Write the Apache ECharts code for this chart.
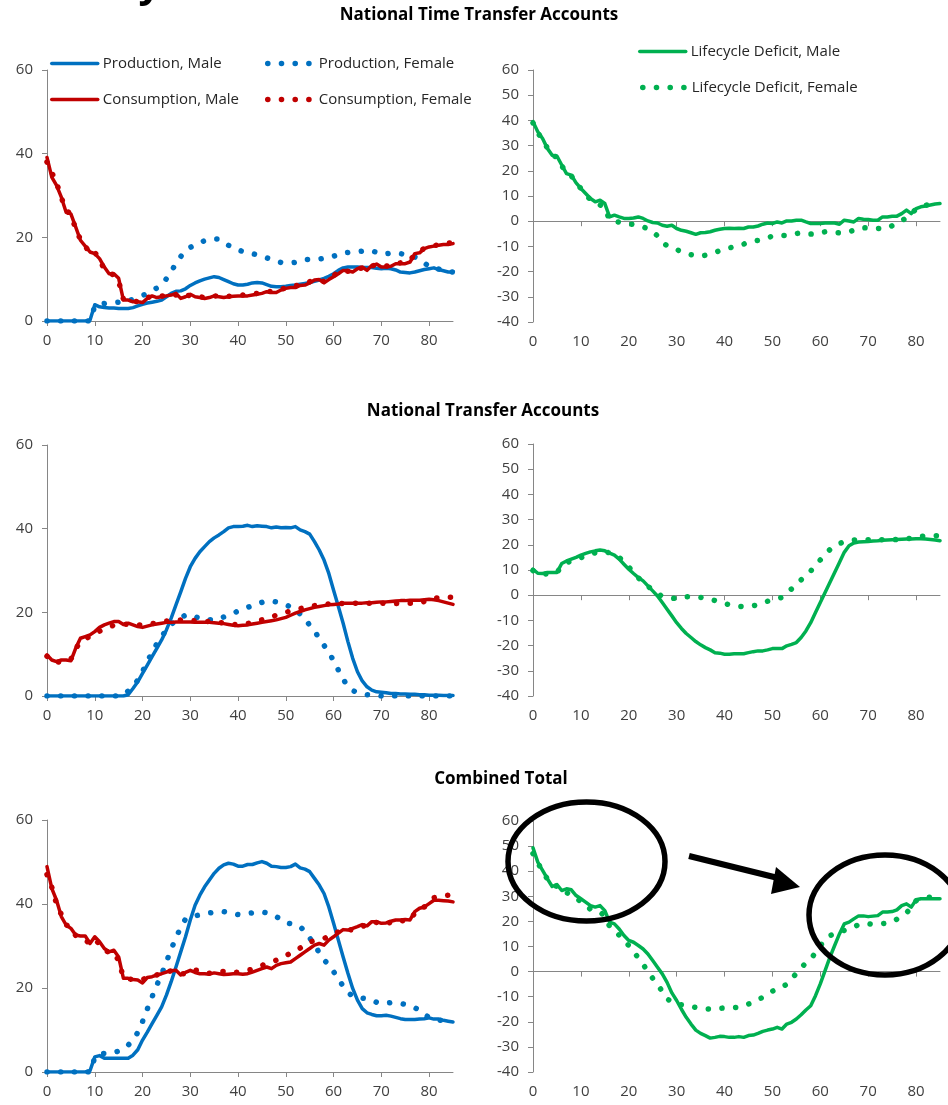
<!DOCTYPE html>
<html><head><meta charset="utf-8">
<script src="https://cdn.jsdelivr.net/npm/echarts@6/dist/echarts.min.js"></script>
<style>html,body{margin:0;padding:0;background:#fff}#c{width:948px;height:1105px}</style>
</head><body><div id="c"></div>
<script>
// ---------- DATA ----------
const ages = [0,1,2,3,4,5,6,7,8,9,10,11,12,13,14,15,16,17,18,19,20,21,22,23,24,25,26,27,28,29,30,31,32,33,34,35,36,37,38,39,40,41,42,43,44,45,46,47,48,49,50,51,52,53,54,55,56,57,58,59,60,61,62,63,64,65,66,67,68,69,70,71,72,73,74,75,76,77,78,79,80,81,82,83,84,85];
const xTicks = [0,10,20,30,40,50,60,70,80];
const titles = ['National Time Transfer Accounts','National Transfer Accounts','Combined Total'];
const seriesNames = ['Production, Male','Production, Female','Consumption, Male','Consumption, Female','Lifecycle Deficit, Male','Lifecycle Deficit, Female'];

// National Time Transfer Accounts
const prodMaleTime = [0,0,0,0,0,0,0,0,0,0.2,3.9,3.4,3.2,3.1,3.1,3.0,3.0,3.0,3.2,3.6,4.0,4.3,4.5,4.7,5.0,5.8,6.6,7.1,7.2,7.7,8.5,9.1,9.6,10.0,10.3,10.6,10.4,9.9,9.4,8.9,8.6,8.6,8.8,9.1,9.2,9.1,8.7,8.3,8.2,8.2,8.3,8.5,8.6,8.8,9.0,9.2,9.5,9.8,10.2,10.7,11.3,12.1,12.7,12.9,12.9,12.9,12.8,12.8,12.8,12.6,12.5,12.6,12.5,12.2,11.7,11.6,11.5,11.7,12.0,12.3,12.5,12.7,12.3,12.0,11.7,11.7];
const prodFemaleTime = [0,0,0,0,0,0,0,0,0,0,3.5,4.1,4.2,4.3,4.4,4.5,4.6,4.8,5.2,5.6,6.1,6.6,7.2,7.9,8.7,10.1,11.9,13.7,15.4,16.8,17.6,18.2,18.7,19.2,19.4,19.6,19.6,18.9,18.1,17.5,17.0,16.6,16.4,16.1,15.8,15.5,15.1,14.7,14.3,14.0,13.9,13.9,14.0,14.4,14.7,14.7,14.7,14.8,15.0,15.2,15.5,15.9,16.3,16.4,16.5,16.6,16.7,16.9,16.8,16.4,16.0,16.1,16.2,16.3,16.1,15.9,15.7,15.3,14.8,13.9,13.0,12.6,12.4,12.1,11.9,11.7];
const consMaleTime = [39.1,34.4,32.4,29.6,26.0,25.6,22.5,19.3,17.9,16.5,16.1,14.9,12.9,11.3,11.3,10.2,5.0,5.0,4.6,4.6,4.4,5.4,6.0,5.6,5.8,6.0,6.2,6.6,5.4,5.8,6.4,5.8,5.6,5.4,5.6,6.0,5.8,5.6,5.8,5.9,6.0,6.0,6.0,6.2,6.4,6.6,7.0,6.8,6.8,7.4,7.8,8.0,8.0,8.5,8.6,9.1,9.8,9.9,9.1,9.9,10.6,11.3,12.1,12.0,11.7,12.5,12.9,12.1,13.3,13.6,12.9,12.9,13.1,13.7,13.7,13.7,14.1,16.1,16.3,17.3,17.7,17.9,18.1,18.3,18.3,18.5];
const consFemaleTime = [38.0,35.5,33.0,29.5,26.5,25.5,22.0,19.5,18.0,16.0,16.5,14.5,12.5,11.5,11.0,9.5,5.2,5.0,4.8,4.6,4.8,5.6,5.8,5.8,6.0,6.0,6.3,6.2,5.6,5.9,6.2,5.9,5.8,5.6,5.7,6.0,5.9,5.8,5.9,6.0,6.1,6.2,6.3,6.4,6.6,6.8,7.0,7.1,7.3,7.6,7.9,8.2,8.4,8.7,9.0,9.4,9.8,9.6,9.5,10.2,10.9,11.6,12.0,11.9,12.0,12.6,12.6,12.4,13.2,13.3,13.0,13.1,13.4,13.8,13.9,14.0,14.6,15.8,16.6,17.4,17.8,18.0,18.2,18.4,18.6,18.8];
const lcdMaleTime = [39.5,35.5,32.8,28.9,26.2,25.8,22.3,18.9,18.3,15.2,13.0,11.0,9.0,7.7,8.3,7.0,1.7,2.4,1.7,1.1,1.1,1.3,1.7,1.1,0.1,-0.5,-0.7,-1.6,-2.0,-1.6,-2.9,-3.6,-4.0,-4.6,-5.2,-4.6,-4.5,-4.2,-3.6,-3.2,-2.9,-2.8,-2.9,-2.8,-2.9,-2.3,-2.3,-1.9,-1.2,-0.7,-0.9,-0.3,-0.7,0.1,0.1,0.4,0.4,-0.3,-0.9,-0.9,-0.9,-0.7,-0.7,-0.7,-1.2,0.4,0.1,-0.3,1.1,0.8,0.7,0.4,0.4,1.7,1.7,2.0,2.0,3.0,4.4,3.0,5.0,5.7,6.0,6.4,6.8,7.0];
const lcdFemaleTime = [39.0,35.0,32.5,29.0,26.0,25.5,22.0,19.0,18.0,15.0,13.0,10.5,8.5,7.0,6.5,5.4,0.4,0.0,-0.4,-0.7,-1.0,-1.3,-1.8,-2.3,-3.0,-4.2,-5.8,-8.2,-9.8,-10.6,-11.3,-12.0,-12.8,-13.3,-13.7,-13.9,-13.5,-12.9,-12.4,-11.7,-11.0,-10.6,-10.2,-9.8,-9.1,-8.4,-7.9,-7.6,-7.2,-6.6,-5.9,-5.7,-5.7,-5.7,-5.3,-4.9,-4.6,-4.8,-5.1,-5.0,-4.6,-4.2,-4.3,-4.5,-4.6,-4.4,-4.2,-3.6,-2.9,-2.6,-2.7,-2.9,-2.9,-2.8,-2.8,-1.8,-0.8,0.2,1.3,3.0,4.8,5.8,6.3,6.8,7.0,7.1];

// National Transfer Accounts
const prodMaleNTA = [0,0,0,0,0,0,0,0,0,0,0,0,0,0,0,0,0,0.3,1.8,3.4,5.4,7.4,9.4,11.4,13.4,15.8,18.6,21.8,24.9,28.1,30.9,32.9,34.5,35.7,36.9,37.8,38.5,39.3,40.2,40.5,40.5,40.6,40.8,40.5,40.7,40.6,40.5,40.2,40.4,40.2,40.3,40.2,40.5,39.7,39.3,38.7,36.9,34.9,32.5,29.3,25.3,21.4,17.4,13.0,9.0,5.8,3.6,2.2,1.4,1.0,0.9,0.8,0.6,0.6,0.5,0.5,0.4,0.4,0.3,0.3,0.2,0.2,0.2,0.1,0.1,0.1];
const prodFemaleNTA = [0,0,0,0,0,0,0,0,0,0,0,0,0,0,0,0,0.2,1.2,2.2,3.8,5.9,8.2,10.5,12.5,14.2,15.8,17.1,18.1,18.8,19.3,19.5,19.0,18.5,18.3,18.2,18.2,18.4,18.9,19.3,19.8,20.3,20.8,21.2,21.6,22.0,22.4,22.7,22.7,22.5,22.2,21.8,21.3,20.7,19.6,18.5,16.9,15.5,13.8,12.1,10.5,8.4,6.2,4.0,2.3,1.3,0.8,0.5,0.3,0.2,0.1,0,0,0,0,0,0,0,0,0,0,0,0,0,0,0,0];
const consMaleNTA = [9.8,8.6,8.2,8.6,8.6,8.4,11.4,13.8,14.2,14.6,15.4,16.4,17.0,17.4,17.8,17.8,17.1,17.4,17.0,16.6,16.4,16.7,17.0,17.2,17.4,17.6,17.6,17.7,17.7,17.7,17.7,17.6,17.6,17.6,17.6,17.5,17.4,17.3,17.1,16.9,16.8,16.9,17.0,17.2,17.4,17.6,17.8,18.0,18.2,18.5,18.8,19.3,19.8,20.2,20.6,20.9,21.2,21.4,21.6,21.8,21.9,22.0,22.2,22.2,22.2,22.2,22.2,22.3,22.3,22.4,22.5,22.5,22.6,22.7,22.8,22.8,22.9,22.9,22.9,23.0,23.1,23.0,22.8,22.5,22.2,21.9];
const consFemaleNTA = [9.5,8.4,8.0,8.3,8.4,8.8,11.4,12.8,13.6,14.3,15.0,15.5,16.0,16.5,16.9,17.2,17.2,17.1,17.1,17.0,17.0,17.1,17.3,17.5,17.7,17.9,18.0,18.1,18.2,18.2,18.1,18.0,18.0,17.9,17.8,17.7,17.6,17.4,17.2,17.1,17.0,17.1,17.3,17.6,17.9,18.2,18.6,18.9,19.3,19.7,20.0,20.3,20.6,20.9,21.1,21.4,21.6,21.8,21.9,22.0,22.1,22.1,22.1,22.2,22.2,22.2,22.2,22.2,22.2,22.2,22.2,22.1,22.1,22.1,22.2,22.2,22.2,22.2,22.2,22.6,23.1,23.4,23.4,23.5,23.6,23.6];
const lcdMaleNTA = [10.3,8.7,8.6,9.0,9.0,9.0,12.6,13.6,14.3,15.0,15.9,16.6,17.2,17.6,17.9,17.6,16.7,15.9,14.3,12.3,10.3,8.6,7.0,5.7,3.7,1.7,-0.3,-2.9,-5.6,-8.2,-10.9,-13.2,-15.2,-16.8,-18.4,-19.7,-20.8,-21.7,-22.8,-23.0,-23.4,-23.4,-23.2,-23.2,-23.2,-22.8,-22.4,-22.1,-22.1,-21.7,-21.2,-21.2,-21.2,-20.1,-19.5,-18.8,-16.8,-14.2,-10.9,-6.9,-2.9,1.1,5.0,9.0,13.0,17.0,19.6,20.7,21.1,21.2,21.3,21.5,21.6,21.8,21.9,22.0,22.1,22.2,22.3,22.3,22.4,22.4,22.3,22.1,21.9,21.6];
const lcdFemaleNTA = [9.8,8.6,8.3,8.5,8.7,9.0,11.5,12.8,13.6,14.3,14.9,15.6,16.3,16.8,17.1,17.2,16.8,16.2,15.0,13.2,11.2,8.9,6.9,5.1,3.5,2.1,0.6,-0.4,-0.9,-1.2,-1.3,-1.0,-0.7,-0.5,-0.7,-0.9,-1.1,-1.6,-2.1,-2.7,-3.3,-3.8,-4.2,-4.4,-4.5,-4.4,-4.2,-3.8,-3.1,-2.4,-1.8,-1.3,-0.9,0.8,2.5,4.5,6.1,7.9,9.6,11.8,14.0,16.1,18.1,19.5,20.5,21.2,21.7,21.9,22.0,22.0,22.0,22.0,22.0,22.0,22.0,22.0,22.1,22.2,22.3,22.7,23.2,23.4,23.5,23.6,23.6,23.6];

// Combined Total
const prodMaleTot = [0,0,0,0,0,0,0,0,0,0.3,3.6,3.9,3.3,3.3,3.3,3.3,3.3,3.3,4.0,5.3,7.6,9.5,11.5,13.5,15.5,18.3,21.5,25.0,28.6,32.2,36.2,39.7,42.1,44.1,45.7,47.3,48.5,49.3,49.7,49.5,49.0,49.0,49.4,49.4,49.8,50.1,49.7,49.0,48.9,48.7,48.7,48.9,49.5,48.6,48.3,47.7,46.1,44.5,42.5,39.3,35.4,31.4,27.4,23.5,19.9,17.1,15.1,14.1,13.7,13.4,13.4,13.5,13.3,13.0,12.7,12.5,12.5,12.5,12.6,12.7,12.9,12.6,12.6,12.3,12.1,11.9];
const prodFemaleTot = [0,0,0,0,0,0,0,0,0,0,3.4,4.4,4.4,4.5,4.6,5.0,5.5,6.4,7.6,9.4,12.0,15.0,17.9,20.7,23.3,26.2,29.3,31.9,34.5,36.4,36.9,37.2,37.4,37.6,37.9,38.0,38.1,38.2,37.9,37.6,37.5,37.6,37.8,37.9,38.0,38.1,37.9,37.6,37.0,36.3,35.5,35.3,35.2,34.6,33.5,31.9,30.3,28.4,26.7,25.5,23.9,22.2,20.4,19.0,18.0,17.7,17.6,17.5,17.1,16.6,16.3,16.4,16.5,16.4,16.3,16.1,15.8,15.3,14.7,13.7,13.0,12.7,12.4,12.2,12.0,11.9];
const consMaleTot = [48.9,43.7,40.9,37.0,35.0,34.2,32.6,32.4,32.4,30.6,32.2,31.0,29.4,28.6,29.0,27.4,22.3,22.3,22.0,21.9,21.2,22.5,22.7,23.1,23.4,23.8,24.1,24.2,23.1,23.7,24.2,23.7,23.4,23.4,23.3,23.6,23.4,23.2,23.3,23.4,23.4,23.3,23.4,23.8,24.2,24.6,25.0,24.6,25.4,25.8,26.0,26.2,27.0,27.8,28.6,29.4,30.2,30.6,30.2,31.4,32.2,33.1,33.9,33.8,34.2,34.6,35.1,34.8,35.8,35.8,35.4,35.5,35.9,36.2,36.2,36.3,36.2,38.2,39.0,39.3,40.1,40.9,40.9,40.8,40.7,40.5];
const consFemaleTot = [47.0,44.0,40.0,37.5,35.0,34.5,32.5,32.0,31.5,30.5,31.5,30.5,29.0,28.5,28.5,26.5,22.5,22.2,22.0,21.8,22.0,22.5,22.8,23.1,23.5,23.8,24.1,23.9,23.4,23.4,23.9,24.3,24.0,23.6,23.5,23.7,23.9,23.9,23.8,23.7,23.8,23.9,24.2,24.5,24.9,25.4,25.8,26.2,26.6,27.1,27.7,28.3,28.8,29.5,30.3,31.0,31.2,31.4,31.8,32.3,32.8,33.4,33.9,33.9,33.8,34.1,34.6,35.2,35.8,35.6,35.3,35.2,35.7,36.2,36.1,35.9,36.3,37.8,38.9,39.3,40.4,41.5,41.7,42.0,42.1,42.2];
const lcdMaleTot = [49.3,43.6,40.3,37.0,33.9,34.7,32.3,33.0,32.6,30.3,29.0,27.7,26.3,25.7,26.3,24.3,19.7,19.0,17.0,14.4,12.4,11.7,10.4,9.0,7.0,4.4,1.7,-0.9,-4.3,-8.5,-11.5,-15.0,-18.2,-20.9,-23.3,-24.6,-25.5,-26.5,-26.2,-25.8,-25.9,-26.2,-26.2,-25.9,-26.2,-25.5,-25.3,-24.6,-23.8,-23.3,-22.9,-22.2,-22.9,-20.9,-20.2,-18.9,-17.2,-15.3,-13.6,-9.6,-4.9,0.4,5.7,10.4,15.0,19.0,19.7,21.0,22.2,22.2,21.9,22.1,22.3,23.7,23.7,23.9,24.6,26.3,27.0,25.7,28.6,29.0,29.0,29.0,29.0,29.0];
const lcdFemaleTot = [47.0,43.6,39.5,37.0,34.5,34.0,32.0,31.5,30.5,29.5,27.7,26.5,24.8,24.3,23.8,22.0,18.0,16.4,14.5,12.4,10.4,8.0,5.4,2.8,0.2,-2.7,-5.0,-8.0,-10.8,-12.2,-12.9,-13.2,-13.5,-13.9,-14.3,-14.6,-14.8,-14.9,-14.8,-14.6,-14.5,-14.4,-14.3,-14.2,-13.6,-12.9,-12.3,-11.2,-10.2,-9.0,-7.8,-7.0,-6.2,-5.0,-2.9,-0.7,1.6,3.4,5.0,7.5,10.3,12.8,14.4,15.0,15.9,16.4,17.1,17.8,18.7,19.2,19.1,18.8,18.9,19.1,19.3,19.8,20.9,22.2,23.4,25.5,28.2,28.9,29.4,29.7,29.5,29.3];

// ---------- STYLE / LAYOUT ----------
const FONT = 'Open Sans';
const BLUE = '#0070C0', RED = '#C00000', GREEN = '#00B050';
const AXC = '#868686', LBL = '#404040';
const grids = [
  {left:47, top:70, width:406, height:251},
  {left:533, top:70, width:407, height:252},
  {left:47, top:445, width:406, height:251},
  {left:533, top:444, width:407, height:252},
  {left:47, top:820, width:406, height:252},
  {left:533, top:821, width:407, height:251}
];
const DOT = [0.1, 13.6];

const pairs = arr => ages.map((a, i) => [a, arr[i]]);

const xAxis = [], yAxis = [];
grids.forEach((g, i) => {
  const isLeft = i % 2 === 0;
  xAxis.push({
    type:'value', gridIndex:i, min:0, max:85, position:'bottom',
    axisLine:{show:isLeft, onZero:false, lineStyle:{color:AXC, width:1}},
    axisTick:{show:isLeft, length:5, customValues:xTicks, lineStyle:{color:AXC}},
    axisLabel:{customValues:xTicks, margin:12, fontSize:15, color:LBL, fontFamily:FONT},
    splitLine:{show:false}
  });
  yAxis.push({
    type:'value', gridIndex:i,
    min: isLeft ? 0 : -40, max:60, interval: isLeft ? 20 : 10,
    axisLine:{show:true, onZero:false, lineStyle:{color:AXC, width:1}},
    axisTick:{show:true, length:5, lineStyle:{color:AXC}},
    axisLabel:{margin:14, fontSize:15, color:LBL, fontFamily:FONT},
    splitLine:{show:false}
  });
});
// zero-line axes for right panels
[1,3,5].forEach(i => {
  xAxis.push({
    type:'value', gridIndex:i, min:0, max:85, position:'bottom',
    axisLine:{show:true, onZero:true, lineStyle:{color:AXC, width:1}},
    axisTick:{show:true, length:5, customValues:xTicks, lineStyle:{color:AXC}},
    axisLabel:{show:false}, splitLine:{show:false}
  });
});

function lineStyleFor(color, dotted) {
  return dotted ? {color, width:5.5, type:DOT, cap:'round'} : {color, width:3.5, type:'solid', cap:'round', join:'round'};
}
function mk(name, arr, color, dotted, gi) {
  return {
    type:'line', name, xAxisIndex:gi, yAxisIndex:gi, data:pairs(arr),
    symbol:'none', showSymbol:false, silent:true, animation:false,
    lineStyle: lineStyleFor(color, dotted),
    itemStyle:{color}
  };
}

const series = [
  mk(seriesNames[0], prodMaleTime, BLUE, false, 0),
  mk(seriesNames[1], prodFemaleTime, BLUE, true, 0),
  mk(seriesNames[2], consMaleTime, RED, false, 0),
  mk(seriesNames[3], consFemaleTime, RED, true, 0),
  mk(seriesNames[4], lcdMaleTime, GREEN, false, 1),
  mk(seriesNames[5], lcdFemaleTime, GREEN, true, 1),
  mk(seriesNames[0], prodMaleNTA, BLUE, false, 2),
  mk(seriesNames[1], prodFemaleNTA, BLUE, true, 2),
  mk(seriesNames[2], consMaleNTA, RED, false, 2),
  mk(seriesNames[3], consFemaleNTA, RED, true, 2),
  mk(seriesNames[4], lcdMaleNTA, GREEN, false, 3),
  mk(seriesNames[5], lcdFemaleNTA, GREEN, true, 3),
  mk(seriesNames[0], prodMaleTot, BLUE, false, 4),
  mk(seriesNames[1], prodFemaleTot, BLUE, true, 4),
  mk(seriesNames[2], consMaleTot, RED, false, 4),
  mk(seriesNames[3], consFemaleTot, RED, true, 4),
  mk(seriesNames[4], lcdMaleTot, GREEN, false, 5),
  mk(seriesNames[5], lcdFemaleTot, GREEN, true, 5)
];

function lg(name, color, dotted, left, top, w) {
  return {
    data:[name], left, top, padding:0, itemWidth:w, itemHeight:14, itemGap:0,
    selectedMode:false,
    lineStyle: lineStyleFor(color, dotted),
    itemStyle:{color:'rgba(0,0,0,0)', borderWidth:0, opacity:0},
    textStyle:{fontFamily:FONT, fontSize:15, color:'#262626'}
  };
}
const legend = [
  lg(seriesNames[0], BLUE, false, 50, 56, 46),
  lg(seriesNames[1], BLUE, true, 265, 56, 46),
  lg(seriesNames[2], RED, false, 50, 92, 46),
  lg(seriesNames[3], RED, true, 265, 92, 46),
  lg(seriesNames[4], GREEN, false, 638, 44, 46),
  lg(seriesNames[5], GREEN, true, 640, 80, 44)
];

const titleStyle = {fontFamily:FONT, fontWeight:'bold', fontSize:17, color:'#000'};
const title = [
  {text:titles[0], left:479, top:7, textAlign:'center', padding:0, textStyle:titleStyle},
  {text:titles[1], left:483, top:403, textAlign:'center', padding:0, textStyle:titleStyle},
  {text:titles[2], left:501, top:771, textAlign:'center', padding:0, textStyle:titleStyle}
];

const graphic = [
  {type:'text', style:{text:'y', x:150, y:6, font:'bold 40px "Open Sans"', textAlign:'center', textVerticalAlign:'bottom', fill:'#000'}, z:100},
  {type:'ellipse', shape:{cx:586.5, cy:861.5, rx:78.5, ry:59.5}, style:{fill:'none', stroke:'#000', lineWidth:5.5}, z:100},
  {type:'ellipse', shape:{cx:885, cy:915, rx:76, ry:60}, style:{fill:'none', stroke:'#000', lineWidth:5.5}, z:100},
  {type:'line', shape:{x1:689, y1:856, x2:778, y2:878}, style:{stroke:'#000', lineWidth:6}, z:100},
  {type:'polygon', shape:{points:[[776,867],[800,887],[771,894]]}, style:{fill:'#000'}, z:100}
];

const chart = echarts.init(document.getElementById('c'), null, {renderer:'canvas'});
chart.setOption({
  animation:false, backgroundColor:'#fff',
  textStyle:{fontFamily:FONT},
  title, legend, grid:grids, xAxis, yAxis, series, graphic
});
</script>
</body></html>
